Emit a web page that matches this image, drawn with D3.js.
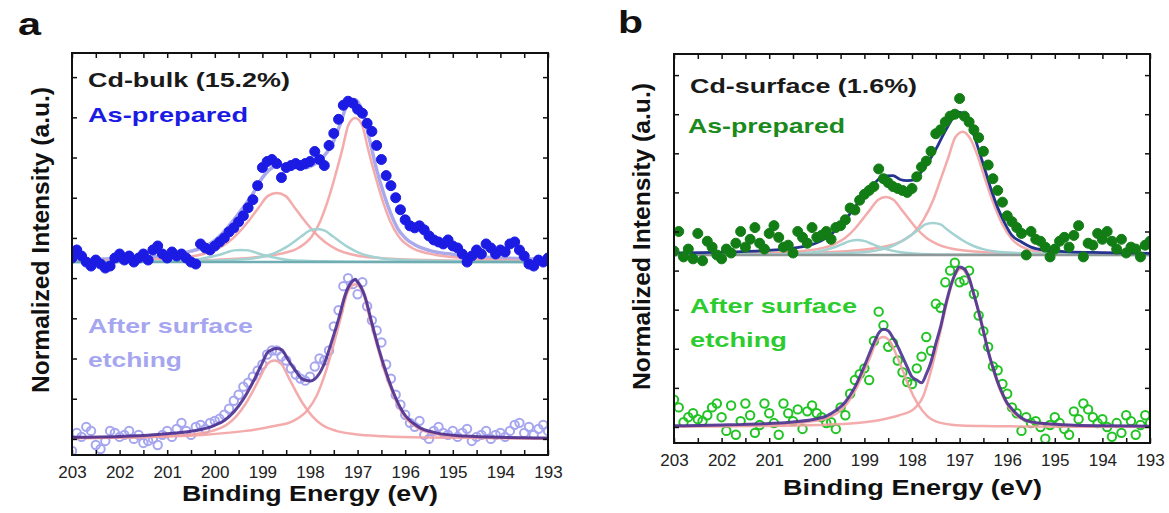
<!DOCTYPE html>
<html>
<head>
<meta charset="utf-8">
<script src="https://cdn.jsdelivr.net/npm/d3@7"></script>
<style>
  body { margin: 0; background: #fff; }
  svg { display: block; }
  text { font-family: "Liberation Sans", Arial, sans-serif; }
</style>
</head>
<body>
<svg id="chart" width="1169" height="513"></svg>
<script>
// binding energy grid (eV), shared by all four spectra
const energyGrid = [
  203.0,202.9,202.8,202.7,202.6,202.5,202.4,202.3,202.2,202.1,
  202.0,201.9,201.8,201.7,201.6,201.5,201.4,201.3,201.2,201.1,
  201.0,200.9,200.8,200.7,200.6,200.5,200.4,200.3,200.2,200.1,
  200.0,199.9,199.8,199.7,199.6,199.5,199.4,199.3,199.2,199.1,
  199.0,198.9,198.8,198.7,198.6,198.5,198.4,198.3,198.2,198.1,
  198.0,197.9,197.8,197.7,197.6,197.5,197.4,197.3,197.2,197.1,
  197.0,196.9,196.8,196.7,196.6,196.5,196.4,196.3,196.2,196.1,
  196.0,195.9,195.8,195.7,195.6,195.5,195.4,195.3,195.2,195.1,
  195.0,194.9,194.8,194.7,194.6,194.5,194.4,194.3,194.2,194.1,
  194.0,193.9,193.8,193.7,193.6,193.5,193.4,193.3,193.2,193.1,
  193.0];

const energyTicks = [203, 202, 201, 200, 199, 198, 197, 196, 195, 194, 193];
const energyMinorTicks = [202.5, 201.5, 200.5, 199.5, 198.5, 197.5, 196.5, 195.5, 194.5, 193.5];
const intensityTicks = [0, 1, 2, 3, 4, 5, 6, 7, 8, 9];

// ---- panel a : Cd-bulk ----
const bulkPrepared = [
  4.5, 4.7, 4.55, 4.4, 4.3, 4.45, 4.35, 4.25, 4.3, 4.5,
  4.6, 4.45, 4.55, 4.4, 4.5, 4.6, 4.45, 4.7, 4.8, 4.6,
  4.5, 4.65, 4.55, 4.6, 4.5, 4.4, 4.35, 4.85, 4.75, 4.7,
  4.8, 4.9, 5.0, 5.15, 5.25, 5.4, 5.55, 5.75, 5.95, 6.3,
  6.75, 6.9, 6.95, 6.85, 6.5, 6.75, 6.8, 6.85, 6.8, 6.85,
  6.9, 7.15, 6.95, 6.8, 7.3, 7.6, 7.95, 8.3, 8.4, 8.35,
  8.2, 8.1, 7.85, 7.65, 7.3, 6.95, 6.55, 6.3, 6.0, 5.7,
  5.45, 5.3, 5.25, 5.3, 5.2, 5.05, 4.95, 4.9, 4.85, 4.95,
  4.8, 4.75, 4.6, 4.4, 4.55, 4.7, 4.6, 4.85, 4.75, 4.6,
  4.7, 4.65, 4.85, 4.9, 4.7, 4.55, 4.35, 4.3, 4.45, 4.4,
  4.5];

const bulkEtched = [
  -0.3, 0.15, 0.05, 0.3, 0.2, -0.15, -0.25, -0.05, 0.2, 0.15,
  0.05, 0.1, 0.2, 0.0, 0.1, -0.1, -0.05, 0.0, -0.15, 0.1,
  0.2, 0.05, 0.25, 0.4, 0.2, 0.1, 0.3, 0.35, 0.25, 0.4,
  0.45, 0.5, 0.6, 0.75, 0.95, 1.1, 1.3, 1.4, 1.55, 1.7,
  1.85, 2.1, 2.2, 2.2, 2.05, 1.95, 1.75, 1.6, 1.5, 1.45,
  1.55, 1.8, 2.0, 1.95, 2.2, 2.8, 3.2, 3.8, 4.0, 3.85,
  3.6, 3.9, 3.3, 2.95, 2.7, 2.4, 1.85, 1.5, 1.1, 0.85,
  0.6, 0.4, 0.3, 0.45, 0.1, 0.0, 0.2, 0.3, 0.15, 0.1,
  0.2, 0.05, 0.15, 0.25, -0.05, 0.05, 0.1, 0.2, 0.0, 0.1,
  0.15, 0.05, 0.2, 0.35, 0.4, 0.15, 0.3, 0.1, 0.25, 0.35,
  0.2];

const bulkPreparedBase = [[203, 4.4], [193, 4.4]];
const bulkPreparedEnvelope = [[203,4.46],[202,4.49],[201,4.56],[200.5,4.67],[200.2,4.79],[200.0,4.94],[199.8,5.17],[199.6,5.45],[199.4,5.76],[199.2,6.1],[199.0,6.5],[198.85,6.7],[198.7,6.8],[198.55,6.82],[198.4,6.78],[198.25,6.74],[198.1,6.74],[197.95,6.8],[197.8,6.93],[197.65,7.12],[197.5,7.42],[197.35,7.88],[197.2,8.36],[197.05,8.44],[196.9,8.15],[196.75,7.45],[196.6,6.7],[196.45,6.1],[196.3,5.6],[196.15,5.22],[196.0,5.0],[195.8,4.83],[195.5,4.69],[195.0,4.59],[194.5,4.54],[194,4.5],[193,4.47]];
const bulkPreparedRed1 = [[203,4.43],[202.77,4.43],[201.63,4.457],[200.86,4.5],[200.35,4.57],[199.97,4.71],[199.72,4.89],[199.46,5.18],[199.27,5.45],[199.08,5.75],[198.89,6.04],[198.7,6.12],[198.51,6.04],[198.32,5.75],[198.13,5.45],[197.94,5.18],[197.68,4.89],[197.43,4.71],[197.05,4.57],[196.54,4.5],[195.77,4.457],[194.63,4.43],[193,4.41]];
const bulkPreparedRed2 = [[203,4.42],[201.15,4.43],[199.95,4.46],[199.14,4.52],[198.6,4.61],[198.23,4.76],[197.96,5.04],[197.78,5.43],[197.6,6.02],[197.46,6.59],[197.32,7.21],[197.19,7.82],[197.05,7.98],[196.91,7.82],[196.78,7.21],[196.64,6.59],[196.5,6.02],[196.32,5.43],[196.14,5.04],[195.87,4.76],[195.5,4.61],[194.96,4.52],[194.15,4.46],[193,4.42]];
const bulkPreparedTeal1 = [[203,4.4],[201.34,4.41],[200.36,4.43],[199.7,4.45],[199.27,4.48],[198.94,4.55],[198.72,4.635],[198.5,4.77],[198.34,4.9],[198.18,5.04],[198.01,5.18],[197.85,5.22],[197.69,5.18],[197.52,5.04],[197.36,4.9],[197.2,4.77],[196.98,4.635],[196.76,4.55],[196.43,4.48],[196.0,4.45],[195.34,4.43],[194.36,4.41],[193,4.4]];
const bulkPreparedTeal2 = [[203,4.4],[201.75,4.41],[201.15,4.42],[200.75,4.43],[200.45,4.45],[200.25,4.49],[200.05,4.54],[199.9,4.58],[199.75,4.64],[199.6,4.69],[199.45,4.7],[199.3,4.69],[199.15,4.64],[199.0,4.58],[198.85,4.54],[198.65,4.49],[198.45,4.45],[198.15,4.43],[197.75,4.42],[197.15,4.41],[193,4.4]];

const bulkEtchedEnvelope = [[203,0.04],[202,0.06],[201,0.13],[200.5,0.19],[200.0,0.34],[199.8,0.46],[199.6,0.67],[199.4,0.99],[199.2,1.41],[199.0,1.9],[198.9,2.14],[198.8,2.22],[198.7,2.25],[198.6,2.22],[198.45,1.95],[198.3,1.69],[198.15,1.48],[198.0,1.44],[197.85,1.55],[197.7,1.87],[197.55,2.4],[197.4,2.98],[197.25,3.62],[197.1,3.93],[197.05,3.97],[197.0,3.91],[196.85,3.56],[196.7,2.88],[196.55,2.22],[196.4,1.65],[196.25,1.16],[196.05,0.67],[195.75,0.32],[195.35,0.15],[194.75,0.07],[193.85,0.035],[193,0.02]];
const bulkEtchedRed1 = [[203,0.02],[201.95,0.033],[201.05,0.064],[200.45,0.115],[200.05,0.2],[199.75,0.35],[199.55,0.56],[199.35,0.88],[199.2,1.19],[199.05,1.53],[198.9,1.86],[198.75,1.95],[198.6,1.86],[198.45,1.53],[198.3,1.19],[198.15,0.88],[197.95,0.56],[197.75,0.35],[197.45,0.2],[197.05,0.115],[196.45,0.064],[195.55,0.033],[193,0.01]];
const bulkEtchedRed2 = [[203,0.02],[202,0.03],[201,0.06],[200.25,0.1],[199.35,0.2],[198.75,0.32],[198.35,0.45],[198.05,0.72],[197.85,1.1],[197.65,1.74],[197.5,2.36],[197.35,3.03],[197.2,3.68],[197.05,3.85],[196.9,3.68],[196.75,3.03],[196.6,2.36],[196.45,1.74],[196.25,1.1],[196.05,0.62],[195.75,0.28],[195.35,0.12],[194.75,0.05],[193.85,0.02],[193,0.01]];

// ---- panel b : Cd-surface ----
const surfPrepared = [
  4.5, 5.0, 4.35, 4.55, 4.3, 4.95, 4.25, 4.75, 4.6, 4.4,
  4.3, 4.55, 4.45, 4.7, 5.0, 4.6, 4.8, 5.1, 4.7, 4.55,
  4.95, 5.15, 4.85, 4.6, 4.65, 4.45, 5.0, 4.85, 4.7, 5.1,
  4.85, 4.9, 5.0, 4.8, 5.1, 5.15, 5.3, 5.6, 5.55, 5.8,
  5.95, 6.05, 6.15, 6.6, 6.35, 6.25, 6.15, 6.1, 6.05, 6.0,
  6.1, 6.4, 6.65, 6.8, 7.05, 7.5, 7.6, 7.8, 7.95, 8.0,
  8.4, 7.95, 7.8, 7.6, 7.4, 7.05, 6.7, 6.35, 6.05, 5.75,
  5.4, 5.25, 5.1, 4.95, 4.4, 5.0, 4.8, 4.75, 4.6, 4.35,
  4.55, 4.75, 4.85, 4.6, 4.9, 5.15, 4.35, 4.7, 4.65, 4.95,
  4.8, 5.0, 4.75, 4.55, 4.8, 4.45, 4.6, 4.55, 4.35, 4.65,
  4.75];

const surfEtched = [
  0.7, 0.5, 0.12, 0.25, 0.35, 0.2, 0.15, 0.3, 0.5, 0.6,
  0.25, -0.1, 0.55, -0.2, 0.15, 0.6, 0.3, -0.15, 0.05, 0.6,
  0.35, 0.1, -0.2, 0.6, 0.35, 0.15, 0.45, -0.05, 0.4, 0.55,
  0.35, 0.25, 0.1, 0.12, -0.05, 0.5, 0.3, 0.85, 1.2, 1.35,
  1.5, 1.2, 2.2, 2.95, 2.6, 2.05, 2.15, 1.7, 1.4, 1.15,
  1.1, 1.5, 1.8, 2.3, 1.95, 3.15, 3.05, 3.7, 4.0, 4.2,
  3.7, 3.75, 4.0, 3.4, 2.85, 2.45, 2.05, 1.55, 1.45, 1.1,
  0.85, 0.5, 0.35, -0.1, 0.25, 0.1, 0.15, 0.0, -0.3, 0.05,
  0.25, 0.1, -0.05, -0.2, 0.4, 0.2, 0.6, 0.45, 0.25, 0.1,
  0.2, 0.0, -0.25, 0.1, -0.15, 0.3, 0.15, -0.2, 0.05, 0.3,
  0.1];

const surfPreparedBase = [[203, 4.4], [193, 4.4]];
const surfPreparedEnvelope = [[203,4.45],[202,4.47],[201,4.52],[200.5,4.57],[200.0,4.71],[199.8,4.84],[199.6,5.03],[199.4,5.3],[199.2,5.62],[199.0,5.95],[198.85,6.14],[198.7,6.34],[198.55,6.42],[198.4,6.43],[198.25,6.33],[198.1,6.3],[197.95,6.32],[197.8,6.53],[197.65,6.79],[197.5,7.1],[197.35,7.46],[197.2,7.79],[197.05,8.06],[196.93,8.02],[196.8,7.79],[196.65,7.28],[196.5,6.71],[196.35,6.12],[196.2,5.61],[196.05,5.21],[195.9,4.9],[195.7,4.73],[195.5,4.6],[195.2,4.52],[194.7,4.48],[194,4.46],[193,4.44]];
const surfPreparedRed1 = [[203,4.41],[202.04,4.425],[201.06,4.45],[200.4,4.49],[199.97,4.55],[199.64,4.67],[199.42,4.82],[199.2,5.07],[199.04,5.31],[198.88,5.56],[198.71,5.81],[198.55,5.88],[198.39,5.81],[198.22,5.56],[198.06,5.31],[197.9,5.07],[197.68,4.82],[197.46,4.67],[197.13,4.55],[196.7,4.49],[196.04,4.45],[195.06,4.425],[193.65,4.413],[193,4.41]];
const surfPreparedRed2 = [[203,4.42],[201.59,4.43],[200.23,4.45],[199.31,4.5],[198.68,4.59],[198.28,4.72],[197.96,4.97],[197.76,5.3],[197.55,5.82],[197.4,6.33],[197.24,6.88],[197.09,7.41],[196.93,7.55],[196.78,7.38],[196.62,6.93],[196.47,6.36],[196.31,5.79],[196.1,5.18],[195.9,4.8],[195.58,4.55],[195.18,4.46],[194.55,4.435],[193.63,4.42],[193,4.41]];
const surfPreparedTeal1 = [[203,4.4],[200.9,4.41],[199.96,4.43],[199.34,4.45],[198.92,4.48],[198.61,4.55],[198.4,4.635],[198.19,4.77],[198.03,4.9],[197.87,5.04],[197.72,5.18],[197.56,5.22],[197.4,5.18],[197.25,5.04],[197.09,4.9],[196.93,4.77],[196.72,4.635],[196.51,4.55],[196.2,4.48],[195.78,4.45],[195.16,4.43],[194.22,4.41],[193,4.4]];
const surfPreparedTeal2 = [[203,4.4],[201.24,4.41],[200.7,4.42],[200.33,4.44],[200.06,4.47],[199.88,4.51],[199.7,4.57],[199.56,4.63],[199.42,4.7],[199.29,4.76],[199.15,4.78],[199.01,4.76],[198.88,4.7],[198.74,4.63],[198.6,4.57],[198.42,4.51],[198.24,4.47],[197.97,4.44],[197.6,4.42],[197.06,4.41],[193,4.4]];

const surfEtchedEnvelope = [[203,0.03],[202,0.05],[201,0.09],[200.5,0.13],[200.0,0.21],[199.8,0.28],[199.6,0.42],[199.4,0.64],[199.2,1.02],[199.0,1.56],[198.9,1.86],[198.8,2.15],[198.7,2.4],[198.6,2.5],[198.5,2.46],[198.4,2.28],[198.3,2.06],[198.2,1.8],[198.1,1.53],[198.0,1.28],[197.9,1.2],[197.8,1.13],[197.7,1.35],[197.6,1.67],[197.5,2.13],[197.4,2.56],[197.3,3.09],[197.2,3.55],[197.1,3.9],[197.0,4.09],[196.9,4.04],[196.8,3.81],[196.7,3.39],[196.6,2.95],[196.5,2.46],[196.4,1.94],[196.3,1.52],[196.2,1.15],[196.1,0.85],[196.0,0.61],[195.9,0.46],[195.7,0.23],[195.5,0.13],[195.2,0.09],[194.7,0.05],[194,0.03],[193,0.02]];
const surfEtchedRed1 = [[203,0.019],[202.7,0.021],[201.5,0.039],[200.69,0.076],[200.15,0.136],[199.78,0.23],[199.51,0.41],[199.33,0.66],[199.15,1.04],[199.01,1.41],[198.87,1.81],[198.74,2.2],[198.6,2.3],[198.46,2.18],[198.33,1.85],[198.19,1.43],[198.06,1.02],[197.87,0.57],[197.69,0.29],[197.42,0.11],[197.06,0.046],[196.51,0.025],[195.7,0.014],[194.5,0.007],[193,0.004]];
const surfEtchedRed2 = [[203,0.012],[200.97,0.024],[199.97,0.049],[199.17,0.1],[198.67,0.18],[198.27,0.3],[197.97,0.45],[197.77,0.77],[197.57,1.58],[197.42,2.35],[197.27,3.16],[197.12,3.81],[196.97,4.05],[196.82,3.83],[196.67,3.26],[196.52,2.52],[196.37,1.79],[196.17,1.01],[195.97,0.51],[195.67,0.19],[195.27,0.08],[194.67,0.045],[193.77,0.024],[193,0.015]];

const RED = "#f3a2a2", TEAL = "#a3d2d2";
const svg = d3.select("#chart");

function drawPanel(p) {
  const x = d3.scaleLinear().domain([203, 193]).range([p.left, p.right]);
  const y = d3.scaleLinear().domain(p.yDomain).range([p.bottom, p.top]);

  svg.append("clipPath").attr("id", "clip-" + p.id)
    .append("rect")
    .attr("x", p.left).attr("y", p.top)
    .attr("width", p.right - p.left).attr("height", p.bottom - p.top);

  const plot = svg.append("g").attr("clip-path", "url(#clip-" + p.id + ")");
  const line = d3.line().x(d => x(d[0])).y(d => y(d[1])).curve(d3.curveMonotoneX);

  p.layers.forEach(l => {
    if (l.type === "line") {
      plot.append("path")
        .datum(l.data)
        .attr("d", line)
        .attr("fill", "none")
        .attr("stroke", l.color)
        .attr("stroke-width", l.width)
        .attr("stroke-opacity", l.opacity || 1)
        .attr("stroke-linejoin", "round");
    } else {
      plot.append("g")
        .selectAll("circle")
        .data(d3.zip(energyGrid, l.values))
        .join("circle")
        .attr("cx", d => x(d[0]))
        .attr("cy", d => y(d[1]))
        .attr("r", l.r)
        .attr("fill", l.filled ? l.color : "none")
        .attr("stroke", l.color)
        .attr("stroke-width", l.filled ? 1 : 2);
    }
  });

  // axes, ticks pointing inward
  const tickStyle = g => {
    g.select(".domain").remove();
    g.selectAll("line").attr("stroke", "#111").attr("stroke-width", 1.5);
  };
  svg.append("g")
    .attr("transform", "translate(0," + p.bottom + ")")
    .call(d3.axisBottom(x).tickValues(energyTicks).tickSize(-5).tickPadding(11).tickFormat(d3.format("d")))
    .call(tickStyle)
    .call(g => g.selectAll("text")
      .attr("fill", "#222")
      .style("font-size", "17px")
      .style("font-family", "'Liberation Sans', Arial, sans-serif"));
  svg.append("g")
    .attr("transform", "translate(0," + p.bottom + ")")
    .call(d3.axisBottom(x).tickValues(energyMinorTicks).tickSize(-5).tickFormat(""))
    .call(tickStyle);
  svg.append("g")
    .attr("transform", "translate(0," + p.top + ")")
    .call(d3.axisTop(x).tickValues(energyTicks.concat(energyMinorTicks)).tickSize(-5).tickFormat(""))
    .call(tickStyle);
  svg.append("g")
    .attr("transform", "translate(" + p.left + ",0)")
    .call(d3.axisLeft(y).tickValues(intensityTicks).tickSize(-5).tickFormat(""))
    .call(tickStyle);
  svg.append("g")
    .attr("transform", "translate(" + p.right + ",0)")
    .call(d3.axisRight(y).tickValues(intensityTicks).tickSize(-5).tickFormat(""))
    .call(tickStyle);

  svg.append("rect")
    .attr("x", p.left).attr("y", p.top)
    .attr("width", p.right - p.left).attr("height", p.bottom - p.top)
    .attr("fill", "none").attr("stroke", "#111").attr("stroke-width", 2);

  // titles
  svg.append("text")
    .attr("x", p.xTitle[0]).attr("y", p.xTitle[1])
    .attr("textLength", p.xTitle[2]).attr("lengthAdjust", "spacingAndGlyphs")
    .style("font-size", "22px").style("font-weight", "bold").attr("fill", "#111")
    .text("Binding Energy (eV)");
  svg.append("text")
    .attr("transform", "translate(" + p.yTitle[0] + "," + p.yTitle[1] + ") rotate(-90)")
    .attr("textLength", p.yTitle[2]).attr("lengthAdjust", "spacingAndGlyphs")
    .style("font-size", "24px").style("font-weight", "bold").attr("fill", "#111")
    .text("Normalized Intensity (a.u.)");

  p.labels.forEach(t => {
    svg.append("text")
      .attr("x", t.x).attr("y", t.y)
      .attr("textLength", t.len).attr("lengthAdjust", "spacingAndGlyphs")
      .style("font-size", t.size + "px").style("font-weight", "bold")
      .attr("fill", t.color)
      .text(t.text);
  });
}

drawPanel({
  id: "a", left: 72, right: 548, top: 53, bottom: 455, yDomain: [-0.4, 9.6],
  xTitle: [182, 501, 256], yTitle: [49, 393, 306],
  layers: [
    { type: "line", data: bulkPreparedEnvelope, color: "#a9a9ec", width: 3.5 },
    { type: "line", data: bulkPreparedRed1, color: RED, width: 2.5, opacity: 0.9 },
    { type: "line", data: bulkPreparedRed2, color: RED, width: 2.5, opacity: 0.9 },
    { type: "line", data: bulkPreparedTeal2, color: TEAL, width: 2.5 },
    { type: "line", data: bulkPreparedTeal1, color: TEAL, width: 2.5 },
    { type: "line", data: bulkPreparedBase, color: "#6fadb2", width: 2.5 },
    { type: "dots", values: bulkPrepared, color: "#1b1be3", filled: true, r: 5 },
    { type: "dots", values: bulkEtched, color: "#a6a6f0", filled: false, r: 4.2 },
    { type: "line", data: bulkEtchedRed1, color: RED, width: 2.5, opacity: 0.9 },
    { type: "line", data: bulkEtchedRed2, color: RED, width: 2.5, opacity: 0.9 },
    { type: "line", data: bulkEtchedEnvelope, color: "#4a2d8e", width: 3, opacity: 0.9 }
  ],
  labels: [
    { text: "a", x: 18, y: 35, len: 23, size: 32, color: "#111" },
    { text: "Cd-bulk (15.2%)", x: 88, y: 87, len: 202, size: 21, color: "#1a1a1a" },
    { text: "As-prepared", x: 88, y: 122, len: 160, size: 21, color: "#1b1be3" },
    { text: "After surface", x: 88, y: 333, len: 165, size: 21, color: "#a6a6f0" },
    { text: "etching", x: 88, y: 367, len: 94, size: 21, color: "#a6a6f0" }
  ]
});

drawPanel({
  id: "b", left: 674, right: 1150, top: 54, bottom: 443, yDomain: [-0.41, 9.54],
  xTitle: [783, 495, 259], yTitle: [650, 390, 307],
  layers: [
    { type: "line", data: surfPreparedRed1, color: RED, width: 2.5, opacity: 0.9 },
    { type: "line", data: surfPreparedRed2, color: RED, width: 2.5, opacity: 0.9 },
    { type: "line", data: surfPreparedTeal2, color: TEAL, width: 2.5 },
    { type: "line", data: surfPreparedTeal1, color: TEAL, width: 2.5 },
    { type: "line", data: surfPreparedBase, color: "#8e9898", width: 2.5 },
    { type: "line", data: surfPreparedEnvelope, color: "#25348e", width: 2.8 },
    { type: "dots", values: surfPrepared, color: "#137d15", filled: true, r: 5 },
    { type: "dots", values: surfEtched, color: "#22c324", filled: false, r: 4.2 },
    { type: "line", data: surfEtchedRed1, color: RED, width: 2.5, opacity: 0.9 },
    { type: "line", data: surfEtchedRed2, color: RED, width: 2.5, opacity: 0.9 },
    { type: "line", data: surfEtchedEnvelope, color: "#4b3190", width: 3, opacity: 0.9 }
  ],
  labels: [
    { text: "b", x: 618, y: 33, len: 25, size: 32, color: "#111" },
    { text: "Cd-surface (1.6%)", x: 690, y: 93, len: 227, size: 21, color: "#1a1a1a" },
    { text: "As-prepared", x: 688, y: 133, len: 157, size: 21, color: "#1a8a1c" },
    { text: "After surface", x: 690, y: 313, len: 167, size: 21, color: "#2ccc2e" },
    { text: "etching", x: 690, y: 347, len: 97, size: 21, color: "#2ccc2e" }
  ]
});
</script>
</body>
</html>
